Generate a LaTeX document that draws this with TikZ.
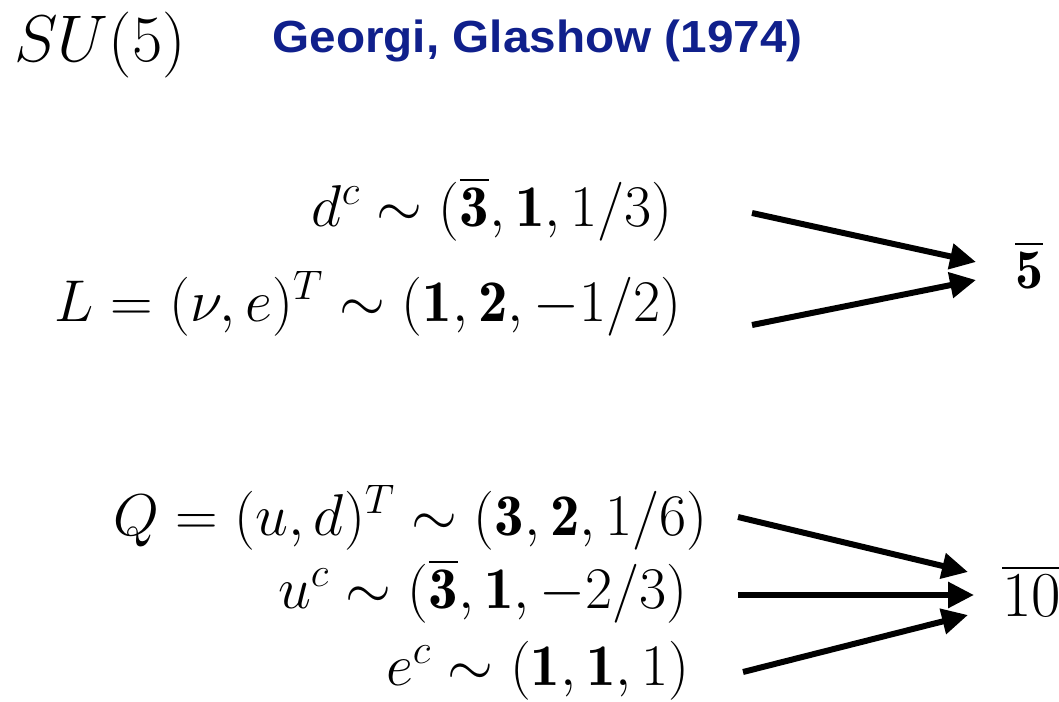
\RequirePackage{fix-cm}
\documentclass[tikz,border=0pt]{standalone}
\usepackage{amsmath}
\usepackage{fontspec}
\newfontfamily\authorfont{Liberation Sans}
\usepackage{xcolor}
\usetikzlibrary{arrows.meta, positioning}
\definecolor{authorblue}{RGB}{16,32,140}

\begin{document}
\begin{tikzpicture}[
    x=0.5pt, y=-0.5pt,
    field/.style={inner sep=0pt, anchor=base east, font=\fontsize{29.5}{35}\selectfont},
    multiplet/.style={inner sep=0pt, anchor=base west},
    arr/.style={-{Triangle[length=13pt, width=12.5pt]}, line width=3pt},
]
\useasboundingbox (0,0) rectangle (1059,701);

% title
\node[inner sep=0pt, anchor=base west, font=\fontsize{33}{39}\selectfont] (group) at (14,62) {$SU(5)$};
\node[inner sep=0pt, anchor=base west, xscale=1.06, text=authorblue, font=\authorfont\bfseries\fontsize{22.5}{27}\selectfont] (authors) at (272,53) {Georgi, Glashow (1974)};

% five-plet
\node[field] (dc) at (673,226) {$d^c \sim (\overline{\mathbf{3}}, \mathbf{1}, 1/3)$};
\node[field] (lep) at (682,321) {$L = (\nu, e)^T \sim (\mathbf{1}, \mathbf{2}, -1/2)$};
\node[multiplet, font=\fontsize{28}{34}\selectfont] (fivebar) at (1015,288) {$\overline{\mathbf{5}}$};

% ten-plet
\node[field] (quark) at (708,535) {$Q = (u, d)^T \sim (\mathbf{3}, \mathbf{2}, 1/6)$};
\node[field] (uc) at (688,608) {$u^c \sim (\overline{\mathbf{3}}, \mathbf{1}, -2/3)$};
\node[field] (ec) at (690,685) {$e^c \sim (\mathbf{1}, \mathbf{1}, 1)$};
\node[multiplet, font=\fontsize{32}{38}\selectfont] (tenbar) at (1002,616) {$\overline{10}$};

\coordinate (dc-out) at (752,213);
\coordinate (lep-out) at (752,325);
\coordinate (five-a) at (976,262);
\coordinate (five-b) at (976,280);
\coordinate (quark-out) at (738,517);
\coordinate (uc-out) at (738,595);
\coordinate (ec-out) at (743,672);
\coordinate (ten-a) at (968,572);
\coordinate (ten-b) at (974,595);
\coordinate (ten-c) at (968,615);

\draw[arr] (dc-out) -- (five-a);
\draw[arr] (lep-out) -- (five-b);
\draw[arr] (quark-out) -- (ten-a);
\draw[arr] (uc-out) -- (ten-b);
\draw[arr] (ec-out) -- (ten-c);
\end{tikzpicture}
\end{document}
